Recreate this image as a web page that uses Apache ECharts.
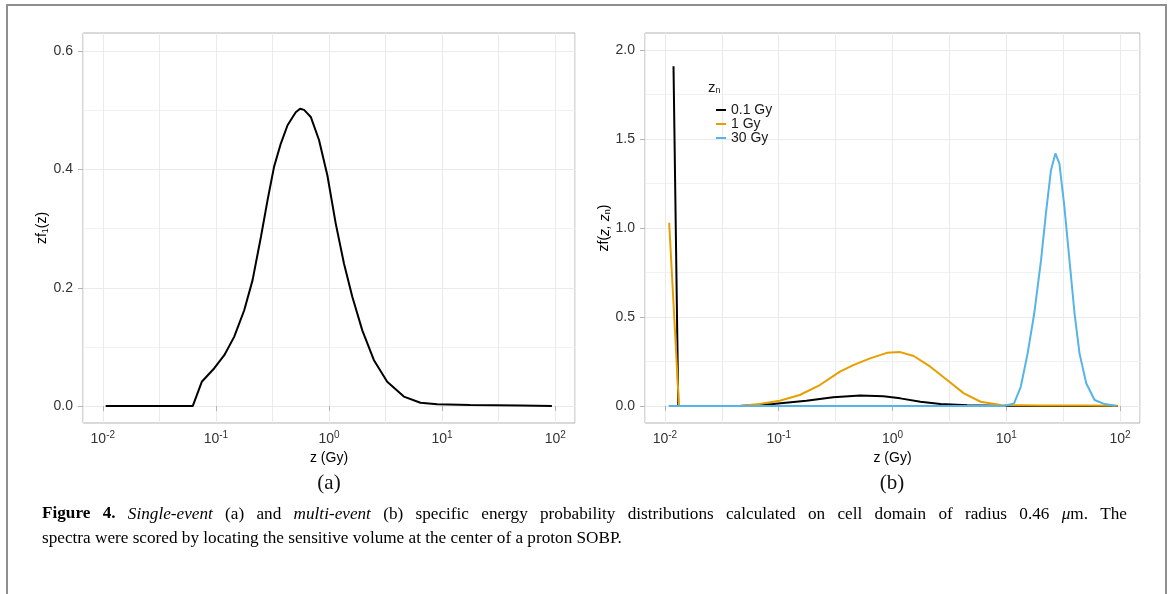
<!DOCTYPE html>
<html>
<head>
<meta charset="utf-8">
<script src="https://cdn.jsdelivr.net/npm/echarts@6/dist/echarts.min.js"></script>
<style>
  body { margin: 0; background: #fff; }
  #main { width: 1170px; height: 594px; }
</style>
</head>
<body>
<div id="main"></div>
<script>
// (a) single-event spectrum
var zSingle = [0.0106, 0.0624, 0.075, 0.0968, 0.1186, 0.145, 0.178, 0.211, 0.25, 0.286, 0.327, 0.375, 0.43, 0.508, 0.555, 0.602, 0.69, 0.816, 0.968, 1.146, 1.356, 1.607, 1.97, 2.49, 3.27, 4.59, 6.44, 9.03, 17.8, 49, 93.5];
var fSingle = [0, 0, 0.041, 0.064, 0.086, 0.117, 0.162, 0.213, 0.286, 0.348, 0.405, 0.444, 0.475, 0.497, 0.503, 0.501, 0.489, 0.45, 0.39, 0.309, 0.241, 0.185, 0.128, 0.078, 0.041, 0.016, 0.0056, 0.0029, 0.0017, 0.001, 0];

// (b) multi-event spectra, one pair per zn
var z01 = [0.0119, 0.0131, 0.045, 0.089, 0.175, 0.301, 0.52, 0.832, 1.17, 1.76, 2.64, 4.54, 8.9, 20, 50, 95];
var f01 = [1.91, 0, 0, 0.011, 0.030, 0.049, 0.059, 0.055, 0.043, 0.024, 0.011, 0.004, 0.001, 0, 0, 0];
var z1 = [0.0109, 0.0133, 0.045, 0.068, 0.102, 0.153, 0.23, 0.345, 0.452, 0.635, 0.893, 1.17, 1.535, 2.15, 3.02, 4.24, 5.95, 8.93, 20, 50, 95];
var f1 = [1.03, 0, 0, 0.011, 0.030, 0.062, 0.118, 0.193, 0.230, 0.268, 0.299, 0.303, 0.281, 0.221, 0.146, 0.071, 0.024, 0.006, 0.003, 0.003, 0.002];
var z30 = [0.0108, 9.57, 11.7, 13.4, 15.4, 17.6, 20.2, 22.3, 24.7, 27, 29.3, 32.4, 35.9, 39.8, 44, 50.4, 59.7, 73.1, 92];
var f30 = [0, 0, 0.015, 0.108, 0.296, 0.52, 0.82, 1.083, 1.326, 1.42, 1.363, 1.12, 0.82, 0.52, 0.296, 0.128, 0.034, 0.011, 0.002];

var znNames = ['0.1 Gy', '1 Gy', '30 Gy'];
var xTickExp = [-2, -1, 0, 1, 2];
var yTicksA = [0, 0.2, 0.4, 0.6];
var yTicksB = [0, 0.5, 1, 1.5, 2];

var captionLine1 = ['{b|Figure}', '{b|4.}', '{i|Single-event}', '(a)', 'and', '{i|multi-event}', '(b)', 'specific', 'energy',
    'probability', 'distributions', 'calculated', 'on', 'cell', 'domain', 'of', 'radius', '0.46', '{i|μ}{n|m.}', 'The'];
var captionLine2 = 'spectra were scored by locating the sensitive volume at the center of a proton SOBP.';

var sans = "'Liberation Sans', Arial, Helvetica, sans-serif";
var serif = "'Liberation Serif', 'Times New Roman', serif";

function pairs(xs, ys) {
    return xs.map(function (x, i) { return [x, ys[i]]; });
}

var xTickVals = xTickExp.map(function (e) { return Math.pow(10, e); });
var xMin = Math.pow(10, -2.175), xMax = Math.pow(10, 2.175);

function xAxis(gridIndex) {
    return {
        type: 'log',
        logBase: 10,
        gridIndex: gridIndex,
        min: xMin,
        max: xMax,
        name: 'z (Gy)',
        nameLocation: 'middle',
        nameGap: 24,
        nameTextStyle: { fontFamily: sans, fontSize: 14, color: '#000' },
        axisLine: { show: false },
        axisTick: { show: true, length: 5, lineStyle: { color: '#b3b3b3' }, customValues: xTickVals },
        axisLabel: {
            customValues: xTickVals,
            margin: 7,
            formatter: function (v) {
                var l = Math.log10(v);
                var e = Math.round(l);
                if (Math.abs(l - e) > 1e-6) return '';
                return '{b|10}{s|' + e + '}';
            },
            rich: {
                b: { fontFamily: sans, fontSize: 14, color: '#333', lineHeight: 18 },
                s: { fontFamily: sans, fontSize: 10, color: '#333', lineHeight: 11, verticalAlign: 'top' }
            }
        },
        splitLine: { show: false },
        minorSplitLine: { show: false }
    };
}

// extra axis per panel, only for the half-decade grid lines
function xGridAxis(gridIndex) {
    return {
        type: 'log',
        logBase: Math.sqrt(10),
        gridIndex: gridIndex,
        position: 'top',
        min: xMin,
        max: xMax,
        axisLine: { show: false },
        axisTick: { show: false },
        axisLabel: { show: false },
        splitLine: { show: true, lineStyle: { color: '#ebebeb', width: 1 } }
    };
}

function yAxis(gridIndex, min, max, split, ticks, name) {
    return {
        type: 'value',
        gridIndex: gridIndex,
        min: min,
        max: max,
        splitNumber: split,
        name: name,
        nameLocation: 'middle',
        nameRotate: 90,
        nameGap: 31,
        nameTextStyle: {
            fontFamily: sans, fontSize: 14, color: '#000',
            rich: {
                n: { fontFamily: sans, fontSize: 14, color: '#000' },
                i: { fontFamily: sans, fontSize: 14, color: '#000', fontStyle: 'italic' },
                sub: { fontFamily: sans, fontSize: 9, color: '#000', verticalAlign: 'bottom', lineHeight: 9 }
            }
        },
        axisLine: { show: false },
        axisTick: { show: true, length: 5, lineStyle: { color: '#b3b3b3' }, customValues: ticks },
        axisLabel: {
            customValues: ticks,
            margin: 10,
            fontFamily: sans,
            fontSize: 14,
            color: '#333',
            formatter: function (v) { return v.toFixed(1); }
        },
        splitLine: { show: true, lineStyle: { color: '#ebebeb', width: 1 } },
        minorTick: { show: false, splitNumber: 2 },
        minorSplitLine: { show: true, lineStyle: { color: '#f1f1f1', width: 1 } }
    };
}

// caption: first line justified between x 42 and 1127
var capSize = 17.2;
var capRich = {
    b: { fontFamily: serif, fontSize: capSize, fontWeight: 'bold', fill: '#000' },
    i: { fontFamily: serif, fontSize: capSize, fontStyle: 'italic', fill: '#000' },
    n: { fontFamily: serif, fontSize: capSize, fill: '#000' }
};
var measureCtx = document.createElement('canvas').getContext('2d');
function segs(word) {
    if (word.indexOf('{') < 0) return [['n', word]];
    var out = [], re = /\{(\w+)\|([^}]*)\}/g, m;
    while ((m = re.exec(word))) out.push([m[1], m[2]]);
    return out;
}
function wordWidth(word) {
    return segs(word).reduce(function (w, s) {
        measureCtx.font = (s[0] === 'b' ? 'bold ' : s[0] === 'i' ? 'italic ' : '') + capSize + 'px ' + serif;
        return w + measureCtx.measureText(s[1]).width;
    }, 0);
}
function captionGraphics() {
    var left = 42, right = 1127, y1 = 514, y2 = 538;
    var widths = captionLine1.map(wordWidth);
    var total = widths.reduce(function (a, b) { return a + b; }, 0);
    var gap = (right - left - total) / (captionLine1.length - 1);
    var x = left, els = [];
    captionLine1.forEach(function (w, i) {
        els.push({
            type: 'text', x: x, y: y1, silent: true,
            style: { rich: capRich, text: segs(w).map(function (s) { return '{' + s[0] + '|' + s[1] + '}'; }).join(''), textVerticalAlign: 'middle' }
        });
        x += widths[i] + gap;
    });
    els.push({
        type: 'text', x: left, y: y2, silent: true,
        style: { rich: capRich, text: '{n|' + captionLine2 + '}', textVerticalAlign: 'middle' }
    });
    return els;
}

var myChart = echarts.init(document.getElementById('main'));

var option = {
    animation: false,
    backgroundColor: '#fff',
    grid: [
        { left: 83, top: 33, width: 492, height: 390, show: true, borderColor: '#b3b3b3', borderWidth: 1 },
        { left: 645, top: 33, width: 495, height: 390, show: true, borderColor: '#b3b3b3', borderWidth: 1 }
    ],
    xAxis: [xAxis(0), xAxis(1), xGridAxis(0), xGridAxis(1)],
    yAxis: [
        yAxis(0, -0.0287, 0.631, 3, yTicksA, '{n|zf}{sub|1}{n|(z)}'),
        yAxis(1, -0.0955, 2.097, 4, yTicksB, '{n|zf(}{i|z, z}{sub|n}{n|)}')
    ],
    legend: {
        data: znNames,
        orient: 'vertical',
        left: 711,
        top: 98,
        itemWidth: 10,
        itemHeight: 2,
        itemGap: 0,
        icon: 'rect',
        selectedMode: false,
        textStyle: { fontFamily: sans, fontSize: 14, color: '#1a1a1a', lineHeight: 14 }
    },
    graphic: [
        { type: 'rect', shape: { x: 7, y: 5, width: 1159, height: 640 }, style: { fill: 'none', stroke: '#8f8f8f', lineWidth: 2 }, silent: true },
        { type: 'text', left: 708, top: 80, style: { rich: { n: { fontFamily: sans, fontSize: 15, fill: '#1a1a1a' }, sub: { fontFamily: sans, fontSize: 9, fill: '#1a1a1a', verticalAlign: 'bottom', lineHeight: 9 } }, text: '{n|z}{sub|n}' } },
        { type: 'text', x: 329, y: 483, style: { text: '(a)', font: '21px ' + serif, fill: '#111', textAlign: 'center', textVerticalAlign: 'middle' } },
        { type: 'text', x: 892, y: 483, style: { text: '(b)', font: '21px ' + serif, fill: '#111', textAlign: 'center', textVerticalAlign: 'middle' } }
    ].concat(captionGraphics()),
    series: [
        {
            name: 'single event',
            type: 'line',
            xAxisIndex: 0,
            yAxisIndex: 0,
            symbol: 'none',
            lineStyle: { color: '#000', width: 2 },
            itemStyle: { color: '#000' },
            data: pairs(zSingle, fSingle)
        },
        {
            name: znNames[0],
            type: 'line',
            xAxisIndex: 1,
            yAxisIndex: 1,
            symbol: 'none',
            lineStyle: { color: '#000', width: 2 },
            itemStyle: { color: '#000' },
            data: pairs(z01, f01)
        },
        {
            name: znNames[1],
            type: 'line',
            xAxisIndex: 1,
            yAxisIndex: 1,
            symbol: 'none',
            lineStyle: { color: '#E69F00', width: 2 },
            itemStyle: { color: '#E69F00' },
            data: pairs(z1, f1)
        },
        {
            name: znNames[2],
            type: 'line',
            xAxisIndex: 1,
            yAxisIndex: 1,
            symbol: 'none',
            lineStyle: { color: '#56B4E9', width: 2 },
            itemStyle: { color: '#56B4E9' },
            data: pairs(z30, f30)
        }
    ]
};

option && myChart.setOption(option);
</script>
</body>
</html>
